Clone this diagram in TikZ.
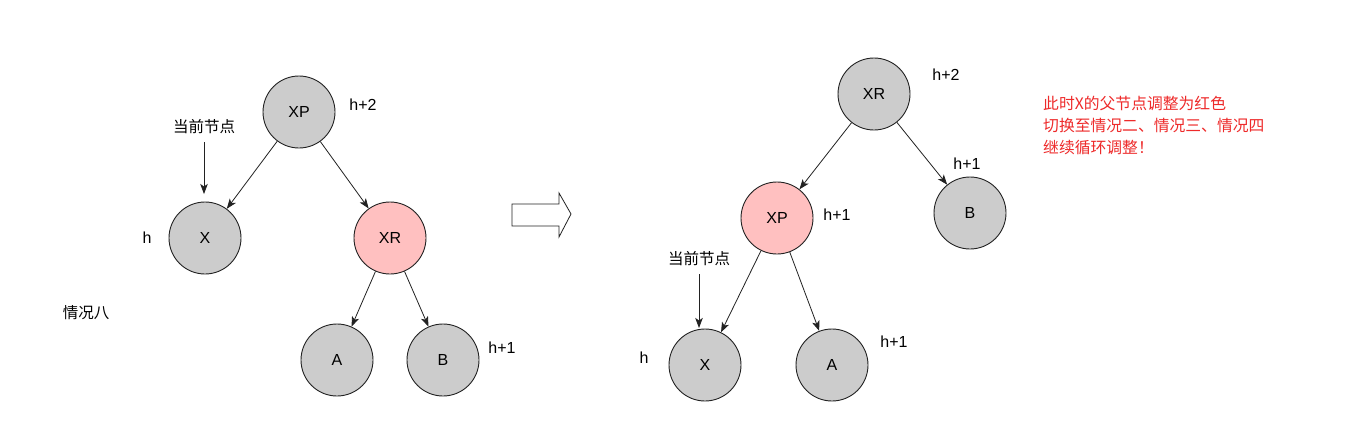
\documentclass[tikz,border=0pt]{standalone}
\usepackage{fontspec}
\setmainfont{Liberation Sans}
\newfontfamily\cjk{Noto Sans CJK SC}
\usetikzlibrary{arrows.meta}
\definecolor{nodegray}{HTML}{CCCCCC}
\definecolor{nodepink}{HTML}{FFC0C0}
\definecolor{notered}{HTML}{EE2A2A}
\definecolor{inkline}{HTML}{222222}
\begin{document}
\begin{tikzpicture}[x=1pt,y=-1pt,
  tn/.style={circle,draw=inkline,line width=0.9pt,fill=nodegray,minimum size=72pt,inner sep=0pt,font=\fontsize{16}{19}\selectfont},
  rn/.style={tn,fill=nodepink},
  lbl/.style={anchor=base,inner sep=0pt,font=\fontsize{16}{19}\selectfont},
  cn/.style={inner sep=0pt,font=\cjk\fontsize{15.5}{18}\selectfont},
  note/.style={anchor=west,inner sep=0pt,text=notered,font=\cjk\fontsize{15.8}{18}\selectfont},
  arr/.style={-{Stealth[length=10pt,width=7.5pt,inset=2.5pt]},line width=0.8pt,draw=inkline}]
\useasboundingbox[fill=white] (0,0) rectangle (1348,440);

% ---- left tree ----
\node[tn] (lXP) at (299,112) {XP};
\node[tn] (lX) at (205,238) {X};
\node[rn] (lXR) at (390,238) {XR};
\node[tn] (lA) at (337,360) {A};
\node[tn] (lB) at (443,360) {B};
\draw[arr] (lXP) -- (lX);
\draw[arr] (lXP) -- (lXR);
\draw[arr] (lXR) -- (lA);
\draw[arr] (lXR) -- (lB);

\node[lbl] (lh2) at (363,110) {h+2};
\node[lbl] (lh) at (147,243) {h};
\node[lbl] (lh1) at (502,353) {h+1};
\node[cn] (lcur) at (204,127) {当前节点};
\coordinate (lcurend) at (204,194);
\draw[arr] ([yshift=-8pt]lcur.south) -- (lcurend);
\node[cn] (case8) at (86,313) {情况八};

% ---- transition arrow ----
\draw[line width=0.8pt,draw=inkline,fill=white,line join=miter]
  (512,204) -- (559,204) -- (559,193) -- (571,214) -- (559,237) -- (559,226) -- (512,226) -- cycle;

% ---- right tree ----
\node[tn] (rXR) at (874,94) {XR};
\node[rn] (rXP) at (777,218) {XP};
\node[tn] (rB) at (970,213) {B};
\node[tn] (rX) at (705,365) {X};
\node[tn] (rA) at (832,365) {A};
\draw[arr] (rXR) -- (rXP);
\draw[arr] (rXR) -- (rB);
\draw[arr] (rXP) -- (rX);
\draw[arr] (rXP) -- (rA);

\node[lbl] (rh2) at (946,80) {h+2};
\node[lbl] (rh1b) at (967,169) {h+1};
\node[lbl] (rh1p) at (837,220) {h+1};
\node[lbl] (rh1a) at (894,347) {h+1};
\node[lbl] (rh) at (644,363) {h};
\node[cn] (rcur) at (699,259) {当前节点};
\coordinate (rcurend) at (699,328);
\draw[arr] ([yshift=-8pt]rcur.south) -- (rcurend);

% ---- note ----
\node[note] (n1) at (1043,103) {此时X的父节点调整为红色};
\node[note] (n2) at (1043,125) {切换至情况二、情况三、情况四};
\node[note] (n3) at (1043,148) {继续循环调整！};
\end{tikzpicture}
\end{document}
